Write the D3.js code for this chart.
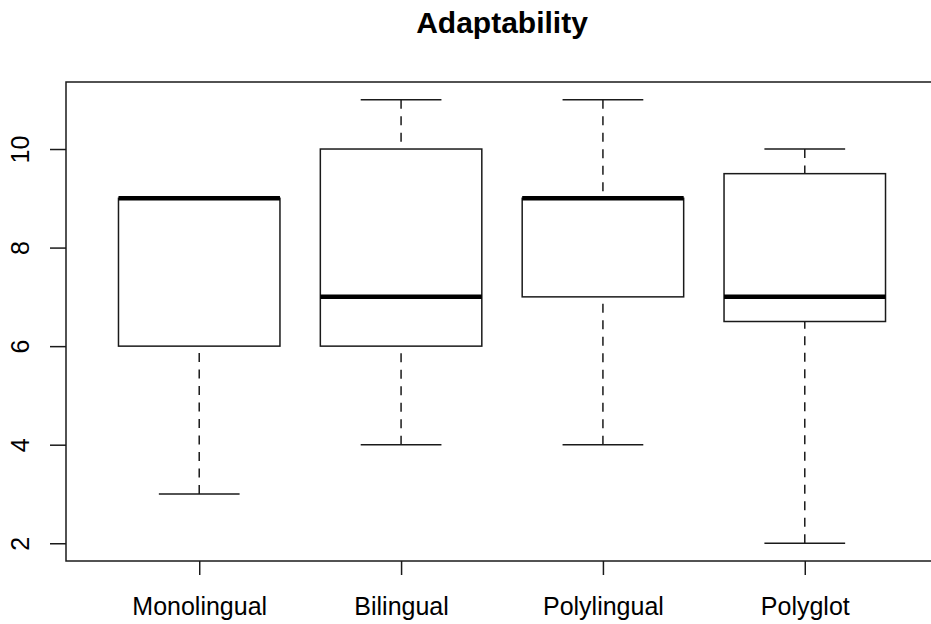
<!DOCTYPE html>
<html>
<head>
<meta charset="utf-8">
<script src="https://cdn.jsdelivr.net/npm/d3@7"></script>
<style>
  body { margin: 0; background: #fff; }
  svg { display: block; font-family: "Liberation Sans", Arial, Helvetica, sans-serif; }
</style>
</head>
<body>
<svg id="chart" width="931" height="624"></svg>
<script>
// group names and five-number summaries
var categories = ["Monolingual", "Bilingual", "Polylingual", "Polyglot"];
var mins    = [3, 4, 4, 2];
var q1s     = [6, 6, 7, 6.5];
var medians = [9, 7, 9, 7];
var q3s     = [9, 10, 9, 9.5];
var maxs    = [9, 11, 11, 10];
var yTicks  = [2, 4, 6, 8, 10];

var svg = d3.select("#chart");

// plot region (right edge runs past the picture, as in the original)
var plotLeft = 66, plotRight = 938, plotTop = 82, plotBottom = 561;

var x = d3.scaleLinear().domain([0.34, 4.66]).range([plotLeft, plotRight]);
var y = d3.scaleLinear().domain([1.64, 11.36]).range([plotBottom, plotTop]);

var unit = x(2) - x(1);
var boxHalf = unit * 0.8 / 2;
var capHalf = boxHalf / 2;
var lineCol = "#1a1a1a";

var boxes = categories.map(function (c, i) {
	return { name: c, pos: i + 1, min: mins[i], q1: q1s[i], med: medians[i], q3: q3s[i], max: maxs[i] };
});

var g = svg.append("g").attr("class", "boxes");

// whiskers: drawn from the extreme toward the box, dashed
g.selectAll("line.whisk-lo").data(boxes).enter().append("line")
	.attr("x1", function (d) { return x(d.pos); })
	.attr("x2", function (d) { return x(d.pos); })
	.attr("y1", function (d) { return y(d.min); })
	.attr("y2", function (d) { return y(d.q1); })
	.attr("stroke", lineCol).attr("stroke-width", 1.5)
	.attr("stroke-dasharray", "9,7.5");

g.selectAll("line.whisk-hi").data(boxes.filter(function (d) { return d.max > d.q3; })).enter().append("line")
	.attr("x1", function (d) { return x(d.pos); })
	.attr("x2", function (d) { return x(d.pos); })
	.attr("y1", function (d) { return y(d.max); })
	.attr("y2", function (d) { return y(d.q3); })
	.attr("stroke", lineCol).attr("stroke-width", 1.5)
	.attr("stroke-dasharray", "9,7.5");

// staples
g.selectAll("line.cap-lo").data(boxes).enter().append("line")
	.attr("x1", function (d) { return x(d.pos) - capHalf; })
	.attr("x2", function (d) { return x(d.pos) + capHalf; })
	.attr("y1", function (d) { return y(d.min); })
	.attr("y2", function (d) { return y(d.min); })
	.attr("stroke", lineCol).attr("stroke-width", 1.5);

g.selectAll("line.cap-hi").data(boxes.filter(function (d) { return d.max > d.q3; })).enter().append("line")
	.attr("x1", function (d) { return x(d.pos) - capHalf; })
	.attr("x2", function (d) { return x(d.pos) + capHalf; })
	.attr("y1", function (d) { return y(d.max); })
	.attr("y2", function (d) { return y(d.max); })
	.attr("stroke", lineCol).attr("stroke-width", 1.5);

// boxes
g.selectAll("rect").data(boxes).enter().append("rect")
	.attr("x", function (d) { return x(d.pos) - boxHalf; })
	.attr("width", boxHalf * 2)
	.attr("y", function (d) { return y(d.q3); })
	.attr("height", function (d) { return y(d.q1) - y(d.q3); })
	.attr("fill", "#fff")
	.attr("stroke", lineCol).attr("stroke-width", 1.5);

// medians
g.selectAll("line.med").data(boxes).enter().append("line")
	.attr("x1", function (d) { return x(d.pos) - boxHalf; })
	.attr("x2", function (d) { return x(d.pos) + boxHalf; })
	.attr("y1", function (d) { return y(d.med); })
	.attr("y2", function (d) { return y(d.med); })
	.attr("stroke", "#000").attr("stroke-width", 4.5);

// frame
svg.append("rect")
	.attr("x", plotLeft).attr("y", plotTop)
	.attr("width", plotRight - plotLeft).attr("height", plotBottom - plotTop)
	.attr("fill", "none")
	.attr("stroke", lineCol).attr("stroke-width", 1.5);

// y axis
var yAxis = svg.append("g")
	.attr("transform", "translate(" + plotLeft + ",0)")
	.call(d3.axisLeft(y).tickValues(yTicks).tickSize(16).tickSizeOuter(0));
yAxis.select(".domain").remove();
yAxis.selectAll(".tick line").attr("stroke", lineCol).attr("stroke-width", 1.5);
yAxis.selectAll(".tick text")
	.attr("x", null).attr("dy", null)
	.attr("text-anchor", "middle")
	.attr("transform", "translate(-37,0) rotate(-90)")
	.attr("font-size", 25)
	.attr("font-family", "Liberation Sans, Arial, sans-serif")
	.attr("fill", "#000");

// x axis
var xAxis = svg.append("g")
	.attr("transform", "translate(0," + plotBottom + ")")
	.call(d3.axisBottom(x).tickValues([1, 2, 3, 4])
		.tickFormat(function (d) { return categories[d - 1]; })
		.tickSize(14).tickSizeOuter(0));
xAxis.select(".domain").remove();
xAxis.selectAll(".tick line").attr("stroke", lineCol).attr("stroke-width", 1.5);
xAxis.selectAll(".tick text")
	.attr("y", 54).attr("dy", null)
	.attr("font-size", 25)
	.attr("font-family", "Liberation Sans, Arial, sans-serif")
	.attr("fill", "#000");

// title
svg.append("text")
	.attr("x", (plotLeft + plotRight) / 2)
	.attr("y", 33)
	.attr("text-anchor", "middle")
	.attr("font-size", 30)
	.attr("font-weight", "bold")
	.text("Adaptability");
</script>
</body>
</html>
